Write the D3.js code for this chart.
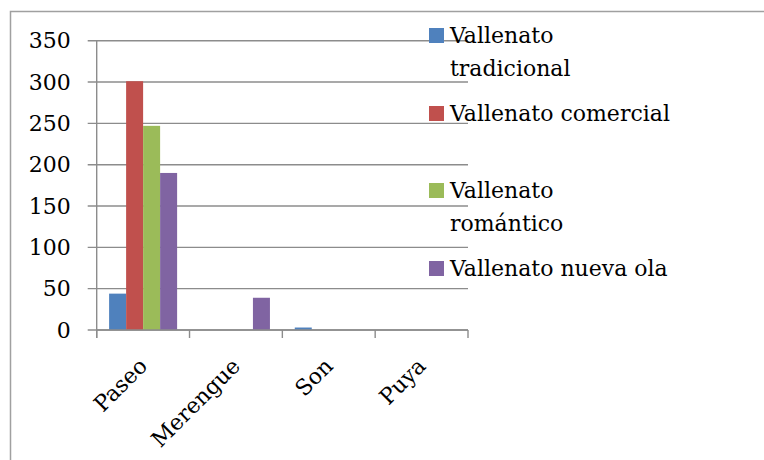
<!DOCTYPE html>
<html><head><meta charset="utf-8">
<script src="https://cdn.jsdelivr.net/npm/d3@7"></script>
<style>
html,body{margin:0;padding:0;background:#fff;}
svg{display:block;}
text{font-family:"DejaVu Serif","Liberation Serif",serif;fill:#000;}
</style></head>
<body>
<svg id="chart" width="764" height="460"></svg>
<script>
const categories = ["Paseo", "Merengue", "Son", "Puya"];
const seriesNames = ["Vallenato tradicional", "Vallenato comercial", "Vallenato romántico", "Vallenato nueva ola"];
const legendLines = [["Vallenato", "tradicional"], ["Vallenato comercial"], ["Vallenato", "romántico"], ["Vallenato nueva ola"]];
const tradicional = [44, 0, 3, 0];
const comercial = [301, 0, 0, 0];
const romantico = [247, 0, 0, 0];
const nuevaOla = [190, 39, 0, 0];
const yTicks = [0, 50, 100, 150, 200, 250, 300, 350];
const colors = ["#4F81BD", "#C0504D", "#9BBB59", "#8064A2"];

(function () {
const seriesValues = [tradicional, comercial, romantico, nuevaOla];

const svg = d3.select("#chart");
const fontSize = 22;

// outer frame
svg.append("rect").attr("x", 10.5).attr("y", 11.5).attr("width", 800).attr("height", 500)
  .attr("fill", "none").attr("stroke", "#a0a0a0").attr("stroke-width", 1.5);

const pLeft = 96.7, pRight = 468, pTop = 40.7, pBottom = 330;
const x = d3.scaleBand().domain(categories).range([pLeft, pRight]).paddingInner(0).paddingOuter(0);
const xs = d3.scaleBand().domain(d3.range(seriesNames.length)).range([0, x.bandwidth()]).paddingInner(0).paddingOuter(0.73);
const y = d3.scaleLinear().domain([0, 350]).range([pBottom, pTop]);

// gridlines
svg.append("g").selectAll("line").data(yTicks).join("line")
  .attr("x1", pLeft - 9).attr("x2", pRight)
  .attr("y1", d => y(d)).attr("y2", d => y(d))
  .attr("stroke", "#8c8c8c").attr("stroke-width", 1.4);

// bars
const groups = svg.append("g").selectAll("g").data(categories).join("g")
  .attr("transform", c => `translate(${x(c)},0)`);
groups.selectAll("rect").data((c, i) => seriesValues.map((s, k) => ({k, v: s[i]})))
  .join("rect")
  .attr("x", d => xs(d.k)).attr("width", xs.bandwidth())
  .attr("y", d => y(d.v)).attr("height", d => y(0) - y(d.v))
  .attr("fill", d => colors[d.k]);

// y axis
const yAxis = d3.axisLeft(y).tickValues(yTicks).tickSize(9).tickPadding(17);
const ya = svg.append("g").attr("transform", `translate(${pLeft},0)`).call(yAxis);
ya.select(".domain").attr("stroke", "#8c8c8c").attr("stroke-width", 1.4).attr("d", `M0,${pTop}V${pBottom + 8}`);
ya.selectAll(".tick line").remove();
ya.selectAll("text").attr("font-size", fontSize).attr("font-family", "DejaVu Serif").attr("fill", "#000");

// x axis
const xa = svg.append("g").attr("transform", `translate(0,${pBottom})`);
xa.append("line").attr("x1", pLeft).attr("x2", pRight).attr("y1", 0).attr("y2", 0)
  .attr("stroke", "#8c8c8c").attr("stroke-width", 1.4);
const edges = categories.map(c => x(c)).concat([pRight]);
xa.selectAll("line.tk").data(edges).join("line").attr("class", "tk")
  .attr("x1", d => d).attr("x2", d => d).attr("y1", 0).attr("y2", 8)
  .attr("stroke", "#8c8c8c").attr("stroke-width", 1.4);
xa.selectAll("text").data(categories).join("text")
  .attr("transform", c => `translate(${x(c) + x.bandwidth() / 2},${32}) rotate(-45)`)
  .attr("text-anchor", "end").attr("font-size", fontSize).attr("dy", "0.35em")
  .text(c => c);

// legend
const legendY = [28, 106, 183, 261];
const lg = svg.append("g");
legendLines.forEach((lines, i) => {
  lg.append("rect").attr("x", 429).attr("y", legendY[i]).attr("width", 15).attr("height", 15).attr("fill", colors[i]);
  const t = lg.append("text").attr("x", 450).attr("y", legendY[i] + 15).attr("font-size", fontSize);
  lines.forEach((ln, j) => t.append("tspan").attr("x", 450).attr("dy", j === 0 ? 0 : 33).text(ln));
});
})();
</script>
</body></html>
